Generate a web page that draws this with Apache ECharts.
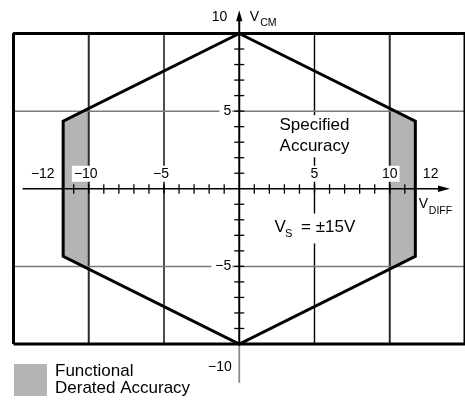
<!DOCTYPE html>
<html>
<head>
<meta charset="utf-8">
<script src="https://cdn.jsdelivr.net/npm/echarts@6/dist/echarts.min.js"></script>
<style>
  html, body { margin: 0; padding: 0; background: #fff; }
  #chart { width: 465px; height: 401px; }
</style>
</head>
<body>
<div id="chart"></div>
<script>
// Common-mode vs differential input range at V_S = ±15V

// Outer boundary of the operating region (V_DIFF, V_CM), closed
const boundaryX = [0, 11.7, 11.7, 0, -11.7, -11.7, 0];
const boundaryY = [10, 4.35, -4.35, -10, -4.35, 4.35, 10];

// Functional / derated-accuracy bands, right and left
const deratedRight = [[10, 5.2], [11.7, 4.35], [11.7, -4.35], [10, -5.2]];
const deratedLeft = [[-10, 5.2], [-11.7, 4.35], [-11.7, -4.35], [-10, -5.2]];

// Plot frame corners
const frameX = [-15, 15, 15, -15, -15];
const frameY = [-10, -10, 10, 10, -10];

// Reference lines
const gridX = [-10, -5, 5, 10];
const gridY = [-5, 5];

// Minor tick positions on the two axes
const minorTicksX = [-11, -10, -9, -8, -7, -6, -5, -4, -3, -2, -1, 1, 2, 3, 4, 5, 6, 7, 8, 9, 10, 11];
const minorTicksY = [-9, -8, -7, -6, -5, -4, -3, -2, -1, 1, 2, 3, 4, 5, 6, 7, 8, 9];

// Tick labels
const xTickLabels = [-12, -10, -5, 5, 10, 12];
const yTickLabels = [10, 5, -5, -10];

const FONT = '"Liberation Sans", Arial, Helvetica, sans-serif';
const fmt = v => (v < 0 ? '\u2212' + Math.abs(v) : String(v));

const bands = [deratedRight, deratedLeft];
const boundary = boundaryX.map((x, i) => [x, boundaryY[i]]);
const frame = frameX.map((x, i) => [x, frameY[i]]);

function seg(p, q, stroke, lineWidth) {
  return { type: 'line', shape: { x1: p[0], y1: p[1], x2: q[0], y2: q[1] },
           style: { stroke, lineWidth } };
}
function txt(x, y, text, size, align, extra) {
  return { type: 'text', x, y,
           style: Object.assign({ text, font: size + 'px ' + FONT, fill: '#000',
                                  align: align || 'center', verticalAlign: 'middle' }, extra || {}) };
}

const chart = echarts.init(document.getElementById('chart'), null, { renderer: 'canvas' });

chart.setOption({
  animation: false,
  backgroundColor: '#fff',
  grid: { left: 13.5, top: 33.5, width: 459, height: 310.5 },
  xAxis: { type: 'value', min: -15, max: 15, show: false },
  yAxis: { type: 'value', min: -10, max: 10, show: false },
  legend: {
    left: 14, top: 363,
    padding: 0,
    itemWidth: 33, itemHeight: 32,
    selectedMode: false,
    icon: 'rect',
    textStyle: { fontFamily: FONT, fontSize: 17, lineHeight: 17, color: '#000', padding: [0, 0, 0, 3] },
    data: ['Functional\nDerated Accuracy']
  },
  series: [
    {
      // shaded derated bands
      name: 'Functional\nDerated Accuracy',
      type: 'custom',
      z: 1,
      itemStyle: { color: '#b4b4b4' },
      data: bands.map((b, i) => [i]),
      renderItem(params, api) {
        const pts = bands[params.dataIndex].map(p => api.coord(p));
        return { type: 'polygon', shape: { points: pts }, style: { fill: api.visual('color') } };
      }
    },
    {
      // vertical reference lines
      type: 'custom', z: 2, silent: true,
      data: gridX.map(v => [v]),
      renderItem(params, api) {
        const v = api.value(0);
        const strong = Math.abs(v) === 10;
        return seg(api.coord([v, -10]), api.coord([v, 10]), strong ? '#2a2a2a' : '#000', strong ? 2 : 1.4);
      }
    },
    {
      // horizontal reference lines
      type: 'custom', z: 2, silent: true,
      data: gridY.map(v => [v]),
      renderItem(params, api) {
        const v = api.value(0);
        return seg(api.coord([-15, v]), api.coord([15, v]), '#7a7a7a', 1.5);
      }
    },
    {
      // text annotations inside the plot
      type: 'custom', z: 3, silent: true,
      data: [[0]],
      renderItem(params, api) {
        const a = api.coord([5, 5]);
        const b = api.coord([5, -2.5]);
        return { type: 'group', children: [
          txt(a[0], a[1] + 25, 'Specified\nAccuracy', 17, 'center',
              { lineHeight: 21, backgroundColor: '#fff', padding: [0, 2, 0, 2] }),
          { type: 'rect', shape: { x: b[0] - 42, y: b[1] - 14, width: 84, height: 30 }, style: { fill: '#fff' } },
          txt(b[0] - 40, b[1], 'V', 17, 'left'),
          txt(b[0] - 29.5, b[1] + 6.5, 'S', 11, 'left'),
          txt(b[0] - 13.5, b[1], '= \u00b115V', 17, 'left')
        ] };
      }
    },
    {
      // axis lines with arrow heads
      type: 'custom', z: 4, silent: true,
      data: [[0]],
      renderItem(params, api) {
        const xl = api.coord([-14.4, 0]);
        const xr = api.coord([14.0, 0]);
        const yt = api.coord([0, 11.5]);
        const yb = api.coord([0, -12.5]);
        const boxBot = api.coord([0, -10]);
        return { type: 'group', children: [
          seg(xl, [xr[0] - 10, xr[1]], '#000', 1.6),
          { type: 'polygon', shape: { points: [[xr[0], xr[1]], [xr[0] - 12, xr[1] - 3.2], [xr[0] - 12, xr[1] + 3.2]] },
            style: { fill: '#000' } },
          seg([yt[0], yt[1] + 8], boxBot, '#000', 2),
          seg(boxBot, yb, '#8a8a8a', 1.8),
          { type: 'polygon', shape: { points: [[yt[0], yt[1]], [yt[0] - 3.2, yt[1] + 11], [yt[0] + 3.2, yt[1] + 11]] },
            style: { fill: '#000' } }
        ] };
      }
    },
    {
      // minor ticks across the horizontal axis
      type: 'custom', z: 4, silent: true,
      data: minorTicksX.map(v => [v]),
      renderItem(params, api) {
        const p = api.coord([api.value(0), 0]);
        return seg([p[0], p[1] - 4.5], [p[0], p[1] + 5], '#000', 1.3);
      }
    },
    {
      // minor ticks across the vertical axis
      type: 'custom', z: 4, silent: true,
      data: minorTicksY.map(v => [v]),
      renderItem(params, api) {
        const p = api.coord([0, api.value(0)]);
        return seg([p[0] - 5, p[1]], [p[0] + 5, p[1]], '#000', 1.3);
      }
    },
    {
      // horizontal axis labels and title
      type: 'custom', z: 5, silent: true,
      data: xTickLabels.map(v => [v]),
      renderItem(params, api) {
        const v = api.value(0);
        const p = api.coord([v, 0]);
        const children = [];
        if (v === -12) {
          children.push(txt(p[0] - 4, p[1] - 15, fmt(v), 14, 'right'));
        } else if (v === 12) {
          children.push(txt(p[0] + 3, p[1] - 15, fmt(v), 14, 'left'));
          children.push(txt(p[0] - 1, p[1] + 15, 'V', 14, 'left'));
          children.push(txt(p[0] + 9, p[1] + 22, 'DIFF', 10.5, 'left'));
        } else {
          children.push(txt(p[0] - (v < 0 ? 3 : 0), p[1] - 15, fmt(v), 14, 'center',
                            { backgroundColor: '#fff', padding: [1, 2, 1, 2] }));
        }
        return { type: 'group', children };
      }
    },
    {
      // vertical axis labels and title
      type: 'custom', z: 5, silent: true,
      data: yTickLabels.map(v => [v]),
      renderItem(params, api) {
        const v = api.value(0);
        const p = api.coord([0, v]);
        const children = [];
        if (v === 10) {
          children.push(txt(p[0] - 12, p[1] - 16, fmt(v), 14, 'right'));
          children.push(txt(p[0] + 10.5, p[1] - 16, 'V', 14, 'left'));
          children.push(txt(p[0] + 21, p[1] - 10, 'CM', 10.5, 'left'));
        } else if (v === -10) {
          children.push(txt(p[0] - 7.5, p[1] + 23.5, fmt(v), 14, 'right'));
        } else {
          children.push(txt(p[0] - 7, p[1], fmt(v), 14, 'right',
                            { backgroundColor: '#fff', padding: [1, 1, 1, 4] }));
        }
        return { type: 'group', children };
      }
    },
    {
      // operating-region boundary
      type: 'line', z: 6, silent: true,
      data: boundary,
      symbol: 'none',
      lineStyle: { color: '#000', width: 3, join: 'miter' },
      clip: false
    },
    {
      // plot frame
      type: 'line', z: 7, silent: true,
      data: frame,
      symbol: 'none',
      lineStyle: { color: '#000', width: 3 },
      clip: false
    }
  ]
});
</script>
</body>
</html>
